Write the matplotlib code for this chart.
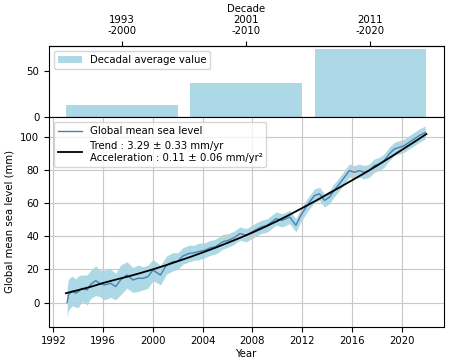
"""Global mean sea level with decadal averages."""

import matplotlib
matplotlib.use("Agg")
import matplotlib.pyplot as plt
import numpy as np

# decadal averages (top panel)
decade_labels = ["1993\n-2000", "2001\n-2010", "2011\n-2020"]
decade_centers = [1997.5, 2007.5, 2017.5]
decade_values = [13.0, 37.0, 74.0]

# GMSL series
years = [1993.1, 1993.2, 1993.5, 1993.8, 1994.0, 1994.3, 1994.7, 1995.0, 1995.4,
         1995.7, 1996.1, 1996.6, 1997.0, 1997.4, 1997.9, 1998.4, 1998.8, 1999.2,
         1999.6, 2000.0, 2000.4, 2000.6, 2001.1, 2001.6, 2002.0, 2002.4, 2002.9,
         2003.3, 2003.6, 2004.2, 2004.6, 2005.0, 2005.3, 2005.6, 2006.1, 2006.5,
         2007.0, 2007.5, 2008.2, 2008.7, 2009.2, 2009.9, 2010.4, 2011.0, 2011.5,
         2011.9, 2012.4, 2013.0, 2013.4, 2013.8, 2014.2, 2014.5, 2015.0, 2015.4,
         2015.8, 2016.2, 2016.6, 2017.0, 2017.4, 2017.8, 2018.2, 2018.6, 2019.0,
         2019.4, 2019.8, 2020.2, 2020.6, 2021.0, 2021.4, 2021.9]
gmsl = [0.0, 4.6, 7.0, 5.6, 6.6, 8.6, 7.6, 11.0, 13.2,
        11.6, 10.6, 11.6, 9.6, 13.6, 16.6, 13.6, 14.6, 14.6,
        15.6, 19.6, 17.6, 16.6, 22.6, 24.6, 25.0, 28.0, 29.6,
        30.0, 30.6, 31.6, 33.0, 33.6, 35.0, 36.6, 37.6, 39.0,
        41.6, 40.6, 43.6, 45.6, 46.6, 50.6, 49.6, 51.6, 46.6,
        52.6, 58.6, 64.6, 65.6, 61.6, 63.6, 67.0, 71.6, 75.6,
        79.6, 78.6, 79.6, 78.6, 79.6, 82.6, 83.6, 85.6, 89.6,
        92.6, 93.6, 94.6, 96.6, 98.6, 100.6, 102.6]
gmsl_err = [9.0, 9.5, 9.0, 8.5, 9.5, 8.0, 9.0, 8.5, 9.0,
            8.0, 9.0, 8.5, 8.0, 9.0, 8.0, 7.5, 8.0, 7.0,
            7.0, 6.5, 6.0, 6.0, 5.5, 5.5, 5.0, 5.0, 5.0,
            4.5, 5.0, 4.5, 4.5, 4.5, 4.5, 4.5, 4.0, 4.0,
            4.0, 4.0, 4.0, 4.0, 4.0, 4.0, 4.0, 4.0, 4.0,
            4.0, 4.0, 4.0, 4.0, 4.0, 4.0, 4.0, 4.0, 4.0,
            4.0, 4.0, 4.0, 4.0, 4.0, 4.0, 4.0, 4.0, 4.0,
            4.0, 4.0, 4.0, 4.0, 4.0, 4.0, 4.0]

# quadratic trend
trend_years = list(range(1993, 2023))
trend = [5.6, 7.5, 9.5, 11.8, 13.8, 15.7, 17.8, 20.0, 22.4, 24.9,
         27.5, 30.2, 33.0, 36.0, 39.0, 42.2, 45.6, 49.2, 53.0, 57.0,
         61.0, 65.2, 69.4, 73.7, 78.0, 82.5, 87.2, 92.0, 96.8, 101.7]

plt.rcParams["font.size"] = 7.3

fig = plt.figure(figsize=(4.59, 3.62), dpi=100)
ax_top = fig.add_axes([0.107, 0.677, 0.860, 0.196])
ax = fig.add_axes([0.107, 0.0975, 0.860, 0.5795], sharex=ax_top)

ax_top.bar(decade_centers, decade_values, width=9, color="lightblue",
           label="Decadal average value")
ax_top.set_ylim(0, 77)
ax_top.set_yticks([0, 50])
ax_top.tick_params(axis="x", labelbottom=False)
ax_top.legend(loc="upper left", handlelength=2.3)
sec = ax_top.secondary_xaxis("top")
sec.set_xticks(decade_centers, decade_labels)
sec.set_xlabel("Decade", labelpad=2)

y = np.array(gmsl)
err = np.array(gmsl_err)
ax.fill_between(years, y - err, y + err, color="lightblue", lw=0)
ax.plot(years, gmsl, color="steelblue", lw=1.0, label="Global mean sea level")
ax.plot(trend_years, trend, color="black", lw=1.3,
        label="Trend : 3.29 ± 0.33 mm/yr\nAcceleration : 0.11 ± 0.06 mm/yr²")
ax.grid(True, color="#c8c8c8", lw=0.8)
ax.set_xlim(1991.65, 2023.4)
ax.set_ylim(-14.6, 112)
ax.set_xticks(range(1992, 2021, 4))
ax.set_yticks(range(0, 101, 20))
ax.set_xlabel("Year", labelpad=2)
ax.set_ylabel("Global mean sea level (mm)")
ax.legend(loc="upper left", handlelength=2.3)

fig.savefig("out.png", dpi=100)
